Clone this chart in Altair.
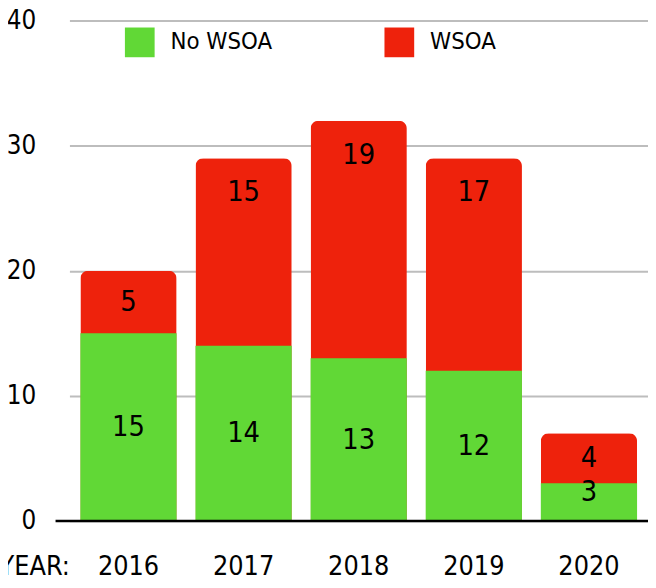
import altair as alt
import pandas as pd

years = ["2016", "2017", "2018", "2019", "2020"]
no_wsoa = [15, 14, 13, 12, 3]
wsoa = [5, 15, 19, 17, 4]
series_names = ["No WSOA", "WSOA"]
colors = ["#61D836", "#EE220C"]
y_ticks = [0, 10, 20, 30, 40]

rows = []
for i, y in enumerate(years):
    rows.append({"year": y, "series": series_names[0], "value": no_wsoa[i]})
    rows.append({"year": y, "series": series_names[1], "value": wsoa[i]})
df = pd.DataFrame(rows)

FONT = "DejaVu Sans Condensed, DejaVu Sans, sans-serif"
W, H = 584, 505

base = alt.Chart(df).transform_joinaggregate(
    total="sum(value)", groupby=["year"]
)

xenc = alt.X(
    "year:N",
    sort=years,
    scale=alt.Scale(paddingInner=0.164, paddingOuter=0.095),
    axis=alt.Axis(
        title="YEAR:", labelAngle=0, labelFontSize=27, labelFont=FONT,
        labelColor="black", labelPadding=33, ticks=False, domain=False,
        titleFontSize=27, titleFont=FONT, titleFontWeight="normal",
        titleX=0, titleY=46, titleAlign="right", titleBaseline="middle",
        titleColor="black",
    ),
)
yscale = alt.Scale(domain=[0, 40], nice=False)
color = alt.Color(
    "series:N",
    scale=alt.Scale(domain=series_names, range=colors),
    legend=alt.Legend(
        title=None, orient="none", legendX=56, legendY=7,
        direction="horizontal", symbolType="square", symbolSize=900,
        symbolStrokeWidth=0, labelFontSize=24, labelFont=FONT,
        labelColor="black", labelOffset=16, columnPadding=113,
    ),
)

red = base.transform_filter(alt.datum.series == "WSOA").mark_bar(
    cornerRadiusTopLeft=8, cornerRadiusTopRight=8
).encode(
    x=xenc,
    y=alt.Y(
        "total:Q", scale=yscale,
        axis=alt.Axis(
            values=y_ticks, title=None, labelFontSize=26, labelFont=FONT,
            labelColor="black", labelPadding=34, ticks=False, domain=False,
            gridColor="#BDBDBD", gridWidth=2,
        ),
    ),
    color=color,
)
green = base.transform_filter(alt.datum.series == "No WSOA").mark_bar().encode(
    x=xenc, y=alt.Y("value:Q", scale=yscale), color=color
)

red_lab = base.transform_filter(alt.datum.series == "WSOA").transform_calculate(
    ly="max(datum.total - 2.75, datum.total - datum.value / 2)"
).mark_text(font=FONT, fontSize=29, color="black", baseline="middle").encode(
    x=alt.X("year:N", sort=years), y=alt.Y("ly:Q", scale=yscale), text="value:Q"
)
green_lab = base.transform_filter(alt.datum.series == "No WSOA").transform_calculate(
    ly="max(datum.value / 2, 2.3)"
).mark_text(font=FONT, fontSize=29, color="black", baseline="middle").encode(
    x=alt.X("year:N", sort=years), y=alt.Y("ly:Q", scale=yscale), text="value:Q"
)

baseline = alt.Chart(pd.DataFrame({"v": [0]})).mark_rule(
    color="black", strokeWidth=2.5
).encode(y=alt.Y("v:Q", scale=yscale), x=alt.value(-14), x2=alt.value(W + 2))

chart = alt.layer(red, green, red_lab, green_lab, baseline).properties(
    width=W, height=H,
    autosize=alt.AutoSizeParams(type="none"),
    padding={"left": 62, "top": 10, "right": 0, "bottom": 60},
).configure_view(stroke=None)

chart.save("out.html", embed_options={"renderer": "svg", "actions": False})
